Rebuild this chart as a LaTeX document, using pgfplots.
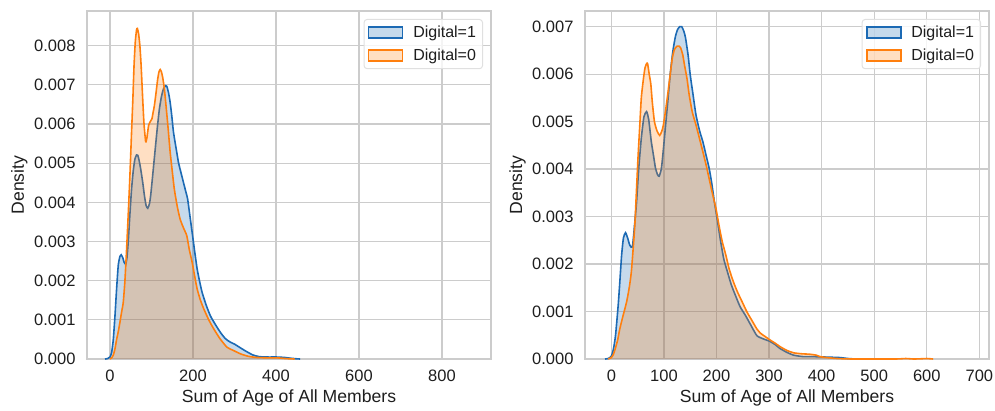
\documentclass[border=0pt]{standalone}
\usepackage{fontspec}
\setmainfont{Liberation Sans}
\usepackage{pgfplots}
\pgfplotsset{compat=1.18}
\definecolor{cblue}{RGB}{28,106,180}
\definecolor{corange}{RGB}{255,127,14}
\definecolor{cgrid}{RGB}{204,204,204}
\definecolor{ctext}{RGB}{30,30,30}

\pgfplotstableread{
x y
-12 0
-6 0.00001
0 0.00005
4 0.00017
8 0.0005
12 0.0011
16 0.0018
20 0.0024
24 0.00262
27 0.00266
31 0.00258
34 0.00247
38 0.00242
41 0.0026
44 0.003
48 0.0037
52 0.00434
56 0.0048
60 0.0051
64 0.00521
67 0.0052
70 0.00508
74 0.00485
79 0.0045
83 0.00417
87 0.00392
91 0.00385
95 0.00396
98 0.00417
103 0.0047
109 0.00536
114 0.0059
119 0.00638
124 0.0067
129 0.0069
134 0.00698
137 0.00696
141 0.0068
145 0.00655
149 0.0062
153 0.00579
159 0.0054
165 0.00502
171 0.00476
177 0.00451
182 0.0043
187 0.00409
192 0.0037
198 0.00323
204 0.00275
210 0.0023
216 0.00198
222 0.0017
232 0.00137
242 0.0011
254 0.00088
266 0.00068
278 0.00052
290 0.00043
300 0.00038
312 0.0003
329 0.00019
345 0.0001
360 0.00006
380 0.00005
402 0.00005
420 0.00004
435 0.00002
450 0.000005
458 0
}\leftblue

\pgfplotstableread{
x y
0 0
4 0.00003
8 0.0001
12 0.00026
16 0.0005
20 0.0007
24 0.00094
28 0.0012
32 0.00145
36 0.002
40 0.0028
44 0.0037
48 0.00468
52 0.0058
55 0.0066
58 0.0075
61 0.0081
64 0.0084
66 0.00844
69 0.0083
72 0.008
75 0.0075
79 0.0066
82 0.006
86 0.00555
89 0.00565
93 0.00596
97 0.00606
101 0.00613
104 0.0063
107 0.00647
111 0.0068
115 0.00715
118 0.00733
121 0.00739
124 0.00733
127 0.00719
131 0.0069
135 0.00647
140 0.0059
145 0.00528
150 0.0048
155 0.00434
162 0.0039
169 0.00357
177 0.00335
185 0.00315
191 0.0028
198 0.00247
204 0.00212
210 0.00179
218 0.0015
226 0.00128
238 0.001
250 0.00077
265 0.00052
282 0.0003
297 0.00022
315 0.00013
333 0.00007
353 0.00004
380 0.00003
402 0.00003
425 0.00001
445 0
}\leftorange

\pgfplotstableread{
x y
-12 0
-6 0.00001
0 0.00006
4 0.00021
8 0.0005
13 0.00113
16 0.0016
19.5 0.00218
23 0.00255
27 0.00266
31 0.00255
35 0.0024
40 0.00236
44 0.0028
48 0.00331
52 0.004
57 0.00465
62 0.0051
67 0.00521
71 0.00505
76 0.00458
80 0.0043
84 0.00402
88 0.00388
91 0.00385
95 0.004
98 0.0043
103 0.0049
108 0.0055
112 0.006
117 0.00648
122 0.0068
126 0.00694
130 0.007
134 0.007
138 0.0069
141 0.00677
146 0.0064
150 0.00599
155 0.0056
161 0.00514
168 0.0048
174 0.00458
180 0.0043
186 0.00402
191 0.0037
196 0.00331
202 0.0029
208 0.00247
214 0.0021
221 0.00183
228 0.00157
236 0.00134
245 0.0011
255 0.00092
266 0.0007
277 0.00049
290 0.00042
302 0.00037
312 0.0003
321 0.00022
334 0.00014
347 0.00008
365 0.00005
384 0.00005
410 0.00004
435 0.00003
450 0.00001
465 0
}\rightblue

\pgfplotstableread{
x y
-6 0
0 0.00003
4 0.0001
7 0.0002
12 0.0004
16 0.00063
22 0.0009
29 0.0012
34 0.0015
38 0.00183
42 0.0024
45 0.00289
48 0.0036
51 0.0043
54 0.0049
57 0.0055
61 0.0059
64 0.00613
67 0.00622
69 0.00622
72 0.006
75 0.0058
78 0.0054
82 0.005
87 0.0048
92 0.00471
96 0.0048
99 0.00493
104 0.0053
108 0.00564
112 0.006
116 0.00634
120 0.00652
125 0.00659
129 0.00659
132 0.00655
136 0.0064
139 0.0062
144 0.0059
148 0.00557
154 0.0052
161 0.00493
168 0.00463
174 0.00437
180 0.0041
186 0.0038
192 0.0035
199 0.00317
205 0.0028
211 0.00247
218 0.00218
224 0.0019
232 0.00163
240 0.00141
249 0.0012
258 0.00099
268 0.0008
277 0.00063
284 0.00054
293 0.00047
302 0.0004
312 0.00033
321 0.00026
334 0.00018
347 0.00013
362 0.00011
378 0.0001
390 0.00008
397 0.00005
410 0.00003
430 0.00001
460 0
540 0
560 0.00001
575 0
590 0.000005
600 0.00001
612 0
}\rightorange

\pgfplotsset{
  kdeaxis/.style={
    scale only axis,
    width=404pt, height=348pt,
    ymin=0,
    font=\fontsize{16.5}{19}\selectfont,
    axis line style={cgrid, line width=1.4pt},
    grid=major,
    major grid style={cgrid, line width=1.2pt},
    major tick length=0pt,
    tick label style={color=ctext},
    xticklabel style={yshift=-7.5pt, /pgf/number format/assume math mode=true},
    yticklabel style={xshift=-8pt, /pgf/number format/.cd, fixed, fixed zerofill, precision=3, assume math mode=true},
    scaled y ticks=false,
    ytick={0,0.001,0.002,0.003,0.004,0.005,0.006,0.007,0.008},
    every axis x label/.style={at={(axis description cs:0.5,0)}, anchor=base, yshift=-43pt, font=\fontsize{17.6}{21}\selectfont, color=ctext},
    every axis y label/.style={at={(axis description cs:0,0.5)}, xshift=-63pt, rotate=90, anchor=base, font=\fontsize{17.6}{21}\selectfont, color=ctext},
    xlabel={Sum of Age of All Members},
    ylabel={Density},
    legend image code/.code={\draw[#1, sharp corners] (0pt,-5.5pt) rectangle (34pt,5.5pt); \path[draw=none, fill=none] (34pt,0pt) -- (42pt,0pt);},
    legend cell align=left,
    legend style={at={(1,1)}, anchor=north east, xshift=-8pt, yshift=-8pt,
      draw=black!12, line width=1pt, fill=white, fill opacity=0.8, text opacity=1,
      rounded corners=3pt, inner xsep=4pt, inner ysep=4pt,
      row sep=5pt,
      font=\fontsize{16}{19}\selectfont, text=ctext,
      nodes={inner sep=2.5pt}},
  },
  fillb/.style={draw=none, fill=cblue, fill opacity=0.25, forget plot, tension=0.35, smooth},
  lineb/.style={draw=cblue, line width=1.6pt, forget plot, tension=0.35, smooth},
  fillo/.style={draw=none, fill=corange, fill opacity=0.25, forget plot, tension=0.35, smooth},
  lineo/.style={draw=corange, line width=1.6pt, forget plot, tension=0.35, smooth},
}

\begin{document}
\begin{tikzpicture}
\useasboundingbox (-87pt,-51pt) rectangle (908pt,359pt);
\begin{axis}[kdeaxis, at={(0pt,0pt)}, anchor=south west,
  xmin=-55.4, xmax=918.1, ymax=0.008885,
  xtick={0,200,400,600,800}]
\addplot[fillb] table[x=x,y=y]{\leftblue} \closedcycle;
\addplot[lineb] table[x=x,y=y]{\leftblue};
\addplot[fillo] table[x=x,y=y]{\leftorange} \closedcycle;
\addplot[lineo] table[x=x,y=y]{\leftorange};
\addlegendimage{draw=cblue, line width=1.4pt, fill=cblue, fill opacity=0.25}
\addlegendentry{Digital=1}
\addlegendimage{draw=corange, line width=1.4pt, fill=corange, fill opacity=0.25}
\addlegendentry{Digital=0}
\end{axis}
\begin{axis}[kdeaxis, at={(498pt,0pt)}, anchor=south west,
  xmin=-50.1, xmax=718.4, ymax=0.00733,
  xtick={0,100,200,300,400,500,600,700}]
\addplot[fillb] table[x=x,y=y]{\rightblue} \closedcycle;
\addplot[lineb] table[x=x,y=y]{\rightblue};
\addplot[fillo] table[x=x,y=y]{\rightorange} \closedcycle;
\addplot[lineo] table[x=x,y=y]{\rightorange};
\addlegendimage{draw=cblue, line width=1.4pt, fill=cblue, fill opacity=0.25}
\addlegendentry{Digital=1}
\addlegendimage{draw=corange, line width=1.4pt, fill=corange, fill opacity=0.25}
\addlegendentry{Digital=0}
\end{axis}
\end{tikzpicture}
\end{document}
